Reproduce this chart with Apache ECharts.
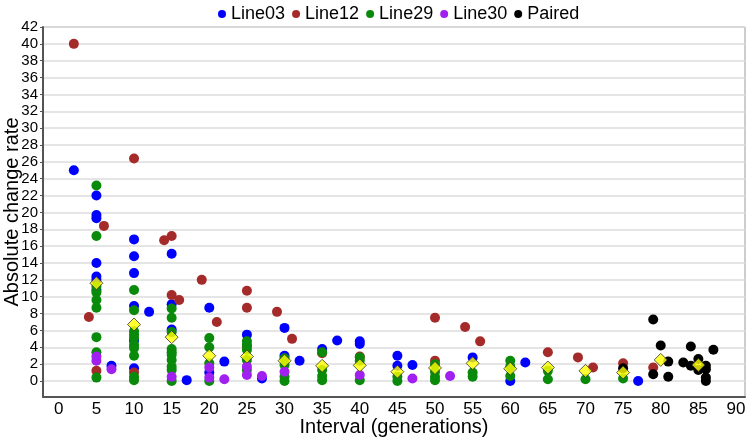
<!DOCTYPE html>
<html>
<head>
<meta charset="utf-8">
<script src="https://cdn.jsdelivr.net/npm/echarts@6/dist/echarts.min.js"></script>
<style>
  html, body { margin: 0; padding: 0; background: #fff; }
  #chart { width: 747px; height: 441px; }
</style>
</head>
<body>
<div id="chart"></div>
<script>
// tick labels
const xTicks = [0, 5, 10, 15, 20, 25, 30, 35, 40, 45, 50, 55, 60, 65, 70, 75, 80, 85, 90]
const yTicks = [0, 2, 4, 6, 8, 10, 12, 14, 16, 18, 20, 22, 24, 26, 28, 30, 32, 34, 36, 38, 40, 42]

// [interval, rate] per line
const line03 = [
  [2, 25.0],
  [5, 22.0], [5, 19.7], [5, 19.3], [5, 14.0], [5, 12.4], [5, 12.0], [5, 10.8],
  [7, 1.8],
  [10, 16.8], [10, 14.8], [10, 12.8], [10, 8.9], [10, 4.8], [10, 1.5],
  [12, 8.2],
  [15, 15.1], [15, 9.1], [15, 6.1],
  [17, 0.1],
  [20, 8.7], [20, 1.0],
  [22, 2.3],
  [25, 5.5],
  [27, 0.3],
  [30, 6.3], [30, 3.0],
  [32, 2.4],
  [35, 3.8],
  [37, 4.8],
  [40, 4.7], [40, 4.4],
  [45, 3.0], [45, 1.8],
  [47, 1.9],
  [55, 2.8],
  [60, 0.0],
  [62, 2.2],
  [77, 0.0]
]
const line12 = [
  [2, 40.0], [4, 7.6], [5, 1.2], [6, 18.4],
  [10, 26.4], [10, 1.0],
  [14, 16.7], [15, 17.2], [15, 10.2], [16, 9.6],
  [19, 12.0], [21, 7.0],
  [25, 10.7], [25, 8.7], [25, 4.1],
  [29, 8.2], [31, 5.0],
  [35, 3.3],
  [40, 2.9],
  [50, 7.5], [50, 2.4],
  [54, 6.4], [56, 4.7],
  [65, 3.4], [69, 2.8], [71, 1.6], [75, 2.1], [79, 1.6]
]
const line29 = [
  [5, 23.2], [5, 17.2], [5, 11.2], [5, 10.5], [5, 9.6], [5, 8.7], [5, 5.2], [5, 3.4], [5, 0.4],
  [10, 10.8], [10, 8.4], [10, 5.9], [10, 5.5], [10, 5.1], [10, 4.3], [10, 3.9], [10, 3.0], [10, 0.5], [10, 0.1],
  [15, 8.6], [15, 7.5], [15, 5.8], [15, 3.8], [15, 3.4], [15, 3.1], [15, 2.5], [15, 1.7], [15, 1.3], [15, 0.0],
  [20, 5.1], [20, 4.0], [20, 2.1], [20, 0.0],
  [25, 4.7], [25, 4.3], [25, 3.7], [25, 2.5], [25, 1.3],
  [30, 2.7], [30, 1.9], [30, 0.5], [30, 0.0],
  [35, 3.4], [35, 1.3], [35, 0.6], [35, 0.1],
  [40, 2.8], [40, 2.4], [40, 0.1],
  [45, 0.5], [45, 0.0],
  [50, 2.0], [50, 1.1], [50, 0.5], [50, 0.1],
  [55, 1.0], [55, 0.5],
  [60, 2.4], [60, 1.7], [60, 0.6],
  [65, 1.2], [65, 0.2],
  [70, 0.2],
  [75, 0.3]
]
const line30 = [
  [5, 2.9], [5, 2.4], [7, 1.4],
  [15, 0.5],
  [20, 1.6], [20, 0.4],
  [22, 0.2],
  [25, 1.7], [25, 0.7],
  [27, 0.6],
  [30, 1.1],
  [40, 0.7],
  [47, 0.3],
  [52, 0.6]
]
const paired = [
  [75, 1.5], [79, 7.3], [79, 0.8], [80, 4.2], [81, 2.3], [81, 0.5],
  [83, 2.2], [84, 4.1], [84, 1.8], [85, 2.6], [85, 1.3],
  [86, 1.8], [86, 1.4], [86, 0.4], [86, 0.0], [87, 3.7]
]
// yellow diamonds
const meanX = [5, 10, 15, 20, 25, 30, 35, 40, 45, 50, 55, 60, 65, 70, 75, 80, 85]
const meanY = [11.6, 6.7, 5.2, 3.0, 2.9, 2.4, 1.8, 1.85, 1.1, 1.55, 2.1, 1.45, 1.6, 1.2, 1.0, 2.5, 1.9]

const font = 'Liberation Sans, Arial, sans-serif'
const chart = echarts.init(document.getElementById('chart'))

function dots(name, data, color) {
  return {
    name,
    type: 'scatter',
    data,
    symbol: 'circle',
    symbolSize: 10,
    itemStyle: { color, opacity: 1 },
    emphasis: { disabled: true },
  }
}

chart.setOption({
  animation: false,
  textStyle: { fontFamily: font },
  legend: {
    top: 0,
    left: 213,
    icon: 'circle',
    itemWidth: 8,
    itemHeight: 8,
    itemGap: 7,
    textStyle: { color: '#000', fontSize: 18, fontFamily: font },
    data: ['Line03', 'Line12', 'Line29', 'Line30', 'Paired'],
  },
  grid: {
    left: 43,
    right: 2,
    top: 27,
    bottom: 44,
    outerBoundsMode: 'none',
    containLabel: false,
    show: true,
    borderColor: '#9a9a9a',
    borderWidth: 1,
  },
  xAxis: {
    type: 'value',
    min: -2.1,
    max: 91.2,
    name: 'Interval (generations)',
    nameLocation: 'middle',
    nameGap: 20,
    nameMoveOverlap: false,
    nameTextStyle: { color: '#000', fontSize: 20, fontFamily: font },
    axisLine: { onZero: false, lineStyle: { color: '#555', width: 2 } },
    axisTick: { show: false },
    splitLine: { show: false },
    axisLabel: {
      customValues: xTicks,
      color: '#000',
      fontSize: 17,
      margin: 4,
      fontFamily: font,
    },
  },
  yAxis: {
    type: 'value',
    min: -1.9,
    max: 42,
    name: 'Absolute change rate',
    nameLocation: 'middle',
    nameGap: 21,
    nameMoveOverlap: false,
    nameTextStyle: { color: '#000', fontSize: 20, fontFamily: font },
    axisLine: { show: true, onZero: false, lineStyle: { color: '#555', width: 2 } },
    axisTick: { show: true, customValues: yTicks, length: 3, lineStyle: { color: '#555' } },
    splitLine: { show: true, lineStyle: { color: '#dcdcdc', width: 1.5 } },
    axisLabel: {
      customValues: yTicks,
      color: '#000',
      fontSize: 15,
      margin: 5,
      fontFamily: font,
    },
  },
  series: [
    dots('Line03', line03, '#0000ff'),
    dots('Line12', line12, '#a52a2a'),
    dots('Line29', line29, '#0a8a0a'),
    dots('Line30', line30, '#a020f0'),
    dots('Paired', paired, '#000000'),
    {
      name: 'Mean',
      type: 'scatter',
      data: meanX.map((x, i) => [x, meanY[i]]),
      symbol: 'diamond',
      symbolSize: 13,
      z: 5,
      itemStyle: { color: '#ffff00', borderColor: '#333', borderWidth: 1 },
      emphasis: { disabled: true },
    },
  ],
})
</script>
</body>
</html>
